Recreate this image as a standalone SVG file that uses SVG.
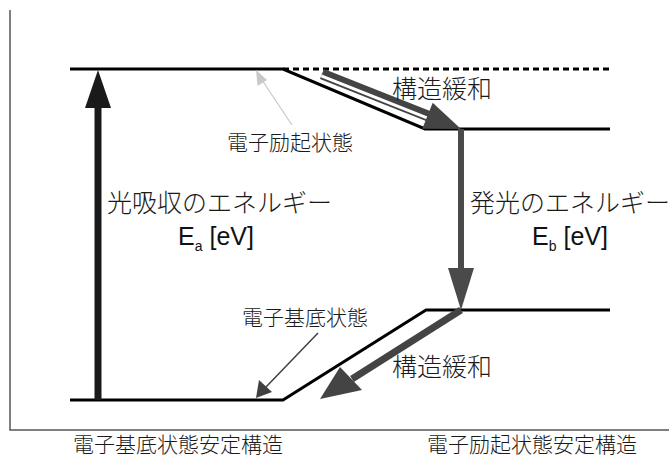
<svg xmlns="http://www.w3.org/2000/svg" width="669" height="459" viewBox="0 0 669 459">
<style>
.lvl{stroke:#000;stroke-width:3;fill:none}
.ax{stroke:#555;stroke-width:1.5;fill:none}
.jp{font-family:"Noto Sans CJK JP","Noto Sans",sans-serif;font-weight:300;fill:#1a1a1a}
.en{font-family:"Liberation Sans",Arial,sans-serif;fill:#111}
</style>
<rect width="669" height="459" fill="#fff"/>
<g id="axes">
<path class="ax" d="M10,10 V430 H669"/>
</g>
<g id="ground-state-stable">
<path class="lvl" d="M70,400 H283 L426,310 H610"/>
</g>
<g id="excited-state">
<path class="lvl" d="M70,69 H283 L425,129 H610"/>
<path d="M283,69 H610" stroke="#000" stroke-width="3" stroke-dasharray="6,4" fill="none"/>
</g>
<g id="connectors">
<g id="absorption-arrow">
<line x1="98" y1="400" x2="98" y2="106" stroke="#1a1a1a" stroke-width="7"/>
<polygon points="98,70 85,108 111,108" fill="#1a1a1a"/>
</g>
<g id="emission-arrow">
<line x1="461" y1="129" x2="461" y2="270" stroke="#4a4a4a" stroke-width="6"/>
<polygon points="461,310 448,268 474,268" fill="#4a4a4a"/>
</g>
<g id="relax-upper">
<line x1="322" y1="74" x2="428" y2="116" stroke="#444" stroke-width="11"/>
<line x1="321.3" y1="75.9" x2="427" y2="117.8" stroke="#fff" stroke-width="3"/>
<polygon points="461,129 422.3,128.8 432.7,102.8" fill="#444"/>
</g>
<g id="relax-lower">
<line x1="461" y1="310" x2="352" y2="379" stroke="#444" stroke-width="7"/>
<polygon points="320,399 340,367 362,390" fill="#444"/>
</g>
<g id="excited-pointer">
<line x1="292" y1="125" x2="262" y2="80" stroke="#c8c8c8" stroke-width="1.2"/>
<polygon points="256,70 257.5,86 267,80" fill="#c8c8c8"/>
</g>
<g id="ground-pointer">
<line x1="318" y1="333" x2="266" y2="387" stroke="#404040" stroke-width="1.5"/>
<polygon points="256,398 259,380 272,392" fill="#404040"/>
</g>
</g>
<g id="labels">
<text class="jp" x="392" y="98" font-size="25">構造緩和</text>
<text class="jp" x="392" y="376" font-size="25">構造緩和</text>
<text class="jp" x="227" y="150" font-size="21">電子励起状態</text>
<text class="jp" x="242" y="325" font-size="21">電子基底状態</text>
<text class="jp" x="107" y="212" font-size="25">光吸収のエネルギー</text>
<text class="en" x="178" y="245" font-size="25">E<tspan font-size="14" dy="6">a</tspan><tspan dy="-6"> [eV]</tspan></text>
<text class="jp" x="470" y="212" font-size="25">発光のエネルギー</text>
<text class="en" x="532" y="245" font-size="25">E<tspan font-size="14" dy="6">b</tspan><tspan dy="-6"> [eV]</tspan></text>
<text class="jp" x="73" y="452" font-size="21">電子基底状態安定構造</text>
<text class="jp" x="427" y="452" font-size="21">電子励起状態安定構造</text>
</g>
</svg>
